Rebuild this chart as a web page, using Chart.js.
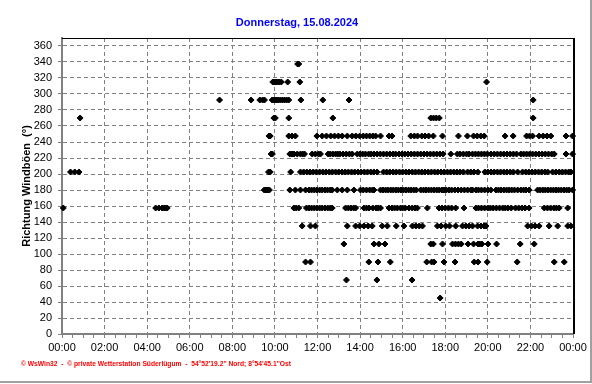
<!DOCTYPE html>
<html lang="de">
<head>
<meta charset="utf-8">
<title>Richtung Windböen</title>
<script src="https://cdn.jsdelivr.net/npm/chart.js@4/dist/chart.umd.min.js"></script>
<style>
    html, body { margin: 0; padding: 0; background: #fff; }
    #box { width: 592px; height: 384px; }
</style>
</head>
<body>
<div id="box"><canvas id="graficoRichtung" width="592" height="384"></canvas></div>
<script>
// Titel und Texte
const titel = 'Donnerstag, 15.08.2024';
const achsenTitel = 'Richtung Windböen  (°)';
const fusszeile = '\u00a9 WsWin32  -  \u00a9 private Wetterstation Süderlügum  -  54°52\'19.2" Nord; 8°54\'45.1"Ost';

// Achsenbeschriftung X (alle 2 Stunden) und Y
const xTickLabels = ['00:00', '02:00', '04:00', '06:00', '08:00', '10:00', '12:00',
                     '14:00', '16:00', '18:00', '20:00', '22:00', '00:00'];
const yTicks = [0, 20, 40, 60, 80, 100, 120, 140, 160, 180, 200, 220, 240, 260, 280, 300, 320, 340, 360];

// Richtungen (16er Windrose, in Grad)
const richtungen = [45, 67.5, 90, 112.5, 135, 157.5, 180, 202.5, 225, 247.5, 270, 292.5, 315, 337.5];

// Zeitpunkte (Stunden) je Richtung
const zeiten045 = [17.76];
const zeiten067 = [13.36, 14.79, 16.44];
const zeiten090 = [11.44, 11.67, 14.41, 14.84, 15.42, 17.13, 17.36, 17.47, 17.94, 18.46, 19.36, 19.54, 19.97, 21.38, 23.12, 23.59];
const zeiten112 = [13.24, 14.65, 14.88, 15.17, 17.32, 17.44, 17.87, 18.34, 18.48, 18.62, 18.75, 19.07, 19.33, 19.54, 19.62, 19.72,
                   20.01, 20.41, 21.52, 22.18];
const zeiten135 = [11.28, 11.67, 11.9, 13.4, 13.79, 13.98, 14.18, 14.38, 14.57, 15.04, 15.28, 15.7, 16.06, 16.46, 16.62, 16.78,
                   16.93, 17.63, 17.8, 18.02, 18.2, 18.49, 18.81, 18.97, 19.12, 19.28, 19.52, 19.68, 19.82, 19.91, 21.87, 22.05,
                   22.22, 22.41, 22.88, 23.28, 23.75, 23.9];
const zeiten157 = [0.06, 4.4, 4.55, 4.7, 4.8, 4.87, 4.94, 10.89, 11.0, 11.12, 11.48, 11.6, 11.72, 11.85, 11.98, 12.1,
                   12.22, 12.35, 12.48, 12.6, 12.69, 13.32, 13.45, 13.58, 13.7, 13.79, 14.18, 14.3, 14.42, 14.6, 14.75, 14.85,
                   14.96, 15.36, 15.5, 15.62, 15.75, 15.9, 16.0, 16.12, 16.3, 16.45, 16.58, 16.69, 17.16, 17.71, 17.85, 18.0,
                   18.15, 18.3, 18.49, 18.88, 19.44, 19.56, 19.7, 19.85, 20.0, 20.12, 20.25, 20.4, 20.55, 20.7, 20.82, 20.95,
                   21.1, 21.3, 21.45, 21.6, 21.75, 21.94, 22.65, 22.8, 22.95, 23.1, 23.22, 23.35, 23.75];
const zeiten180 = [9.5, 9.56, 9.62, 9.68, 9.74, 10.7, 10.96, 11.2, 11.44, 11.6, 11.72, 11.85, 11.97, 12.1, 12.22, 12.35,
                   12.47, 12.6, 12.69, 12.93, 13.16, 13.4, 13.71, 14.02, 14.15, 14.3, 14.45, 14.58, 14.65, 14.96, 15.08, 15.2,
                   15.32, 15.44, 15.56, 15.68, 15.8, 15.92, 16.04, 16.16, 16.28, 16.4, 16.52, 16.64, 16.85, 16.98, 17.1, 17.22,
                   17.35, 17.48, 17.6, 17.72, 17.85, 17.94, 18.05, 18.18, 18.3, 18.45, 18.6, 18.75, 18.9, 19.05, 19.2, 19.28,
                   19.44, 19.56, 19.7, 19.85, 20.0, 20.14, 20.38, 20.5, 20.62, 20.75, 20.88, 21.0, 21.12, 21.25, 21.4, 21.55,
                   21.68, 21.79, 21.94, 22.34, 22.46, 22.58, 22.7, 22.82, 22.95, 23.08, 23.2, 23.32, 23.45, 23.58, 23.7, 23.82,
                   23.98];
const zeiten202 = [0.4, 0.6, 0.8, 9.7, 9.78, 10.74, 11.2, 11.35, 11.5, 11.65, 11.8, 11.95, 12.1, 12.25, 12.4, 12.55,
                   12.7, 12.85, 13.0, 13.15, 13.3, 13.45, 13.6, 13.75, 13.9, 14.05, 14.2, 14.35, 14.5, 14.65, 14.8, 15.1,
                   15.25, 15.4, 15.55, 15.7, 15.85, 16.0, 16.15, 16.3, 16.45, 16.6, 16.75, 16.9, 17.05, 17.2, 17.35, 17.5,
                   17.65, 17.8, 17.95, 18.1, 18.25, 18.4, 18.55, 18.7, 18.85, 19.05, 19.2, 19.35, 19.53, 19.86, 20.0, 20.15,
                   20.3, 20.45, 20.6, 20.75, 20.9, 21.05, 21.2, 21.4, 21.63, 21.78, 21.93, 22.08, 22.23, 22.38, 22.53, 22.68,
                   22.81, 23.04, 23.2, 23.35, 23.5, 23.65, 23.8, 23.9];
const zeiten225 = [9.82, 9.88, 10.7, 10.8, 10.9, 11.05, 11.2, 11.3, 11.39, 11.75, 11.9, 12.05, 12.14, 12.5, 12.6, 12.72,
                   12.85, 12.95, 13.05, 13.2, 13.35, 13.5, 13.63, 13.87, 14.0, 14.12, 14.25, 14.4, 14.52, 14.65, 14.8, 14.95,
                   15.1, 15.25, 15.4, 15.55, 15.67, 15.83, 15.97, 16.1, 16.25, 16.4, 16.55, 16.7, 16.85, 17.0, 17.15, 17.3,
                   17.45, 17.6, 17.75, 17.9, 18.26, 18.57, 18.7, 18.85, 19.0, 19.12, 19.28, 19.42, 19.56, 19.7, 19.84, 19.98,
                   20.15, 20.3, 20.45, 20.6, 20.75, 20.9, 21.05, 21.2, 21.35, 21.55, 21.68, 21.82, 21.96, 22.1, 22.25, 22.4,
                   22.55, 22.7, 22.85, 23.0, 23.12, 23.67, 23.98];
const zeiten247 = [9.72, 9.78, 10.65, 10.8, 10.96, 11.97, 12.22, 12.42, 12.62, 12.8, 12.98, 13.16, 13.4, 13.63, 13.8, 13.98,
                   14.15, 14.3, 14.45, 14.6, 14.73, 14.96, 15.36, 15.5, 16.38, 16.55, 16.7, 16.9, 17.05, 17.22, 17.44, 17.87,
                   18.62, 19.04, 19.33, 19.5, 19.67, 19.83, 20.81, 21.19, 21.82, 21.96, 22.1, 22.41, 22.6, 22.78, 22.96, 23.67,
                   23.98];
const zeiten270 = [0.85, 9.95, 10.02, 10.65, 12.72, 17.32, 17.45, 17.58, 17.72, 22.13];
const zeiten292 = [7.4, 8.88, 9.29, 9.42, 9.51, 9.87, 9.95, 10.05, 10.15, 10.25, 10.35, 10.45, 10.55, 10.65, 11.22, 12.25,
                   13.48, 22.13];
const zeiten315 = [9.9, 9.97, 10.05, 10.12, 10.2, 10.3, 10.6, 11.17, 19.94];
const zeiten337 = [11.07, 11.12];

const zeitenJeRichtung = [zeiten045, zeiten067, zeiten090, zeiten112, zeiten135, zeiten157, zeiten180,
                          zeiten202, zeiten225, zeiten247, zeiten270, zeiten292, zeiten315, zeiten337];

// Punkte für Chart.js zusammenbauen
const punkte = [];
richtungen.forEach((r, i) => {
    zeitenJeRichtung[i].forEach(t => punkte.push({ x: t, y: r }));
});

const schrift = '"Liberation Sans", Arial, sans-serif';
const grau = '#808080';

// Titel, Rahmen oben/rechts, Fusszeile und Fensterkante
const rahmenPlugin = {
    id: 'rahmen',
    afterDraw(chart) {
        const { ctx, chartArea: a } = chart;
        ctx.save();
        ctx.fillStyle = '#0000ff';
        ctx.font = 'bold 11px ' + schrift;
        ctx.textAlign = 'center';
        ctx.textBaseline = 'middle';
        ctx.fillText(titel, 297, 23);

        ctx.strokeStyle = '#000';
        ctx.lineWidth = 1;
        ctx.beginPath();
        ctx.moveTo(a.left, a.top + 0.5);
        ctx.lineTo(a.right + 2, a.top + 0.5);
        ctx.stroke();
        ctx.lineWidth = 2;
        ctx.beginPath();
        ctx.moveTo(a.right + 1, a.top);
        ctx.lineTo(a.right + 1, a.bottom);
        ctx.stroke();

        ctx.fillStyle = '#ff0000';
        ctx.font = 'bold 7px ' + schrift;
        ctx.textAlign = 'left';
        ctx.fillText(fusszeile, 21, 364, 270);

        ctx.strokeStyle = '#a0a0a0';
        ctx.lineWidth = 2;
        ctx.beginPath();
        ctx.moveTo(0, 382);
        ctx.lineTo(591, 382);
        ctx.lineTo(591, 0);
        ctx.stroke();
        ctx.restore();
    }
};

new Chart(document.getElementById('graficoRichtung'), {
    type: 'scatter',
    data: {
        datasets: [{
            label: achsenTitel,
            data: punkte,
            backgroundColor: '#000',
            borderColor: '#000',
            borderWidth: 1,
            pointStyle: 'rectRot',
            pointRadius: 3,
            pointHoverRadius: 3,
            clip: false
        }]
    },
    options: {
        responsive: false,
        animation: false,
        layout: { padding: { left: 0, right: 19, top: 38, bottom: 0 } },
        plugins: {
            legend: { display: false },
            tooltip: { enabled: false },
            title: { display: false }
        },
        scales: {
            x: {
                type: 'linear',
                min: 0,
                max: 24,
                afterFit(scale) { scale.height = 50; },
                ticks: {
                    stepSize: 0.5,
                    autoSkip: false,
                    maxRotation: 0,
                    padding: 3,
                    color: '#000',
                    font: { family: schrift, size: 11 },
                    callback: value => (value % 2 === 0 ? xTickLabels[value / 2] : '')
                },
                grid: {
                    color: c => (c.tick && c.tick.value % 2 === 0 ? grau : 'rgba(0,0,0,0)'),
                    tickColor: grau,
                    tickLength: 4
                },
                border: { color: grau, width: 2, dash: [4, 3] }
            },
            y: {
                min: 0,
                max: 370,
                afterFit(scale) { scale.width = 62; },
                afterBuildTicks(scale) {
                    scale.ticks = yTicks.map(v => ({ value: v }));
                },
                ticks: {
                    padding: 6,
                    color: '#000',
                    font: { family: schrift, size: 11 }
                },
                grid: { color: grau, tickColor: grau, tickLength: 4 },
                border: { color: grau, width: 2, dash: [4, 3] },
                title: {
                    display: true,
                    text: achsenTitel,
                    color: '#000',
                    font: { family: schrift, size: 11, weight: 'bold' },
                    padding: { top: 20, bottom: 0 }
                }
            }
        }
    },
    plugins: [rahmenPlugin]
});
</script>
</body>
</html>
